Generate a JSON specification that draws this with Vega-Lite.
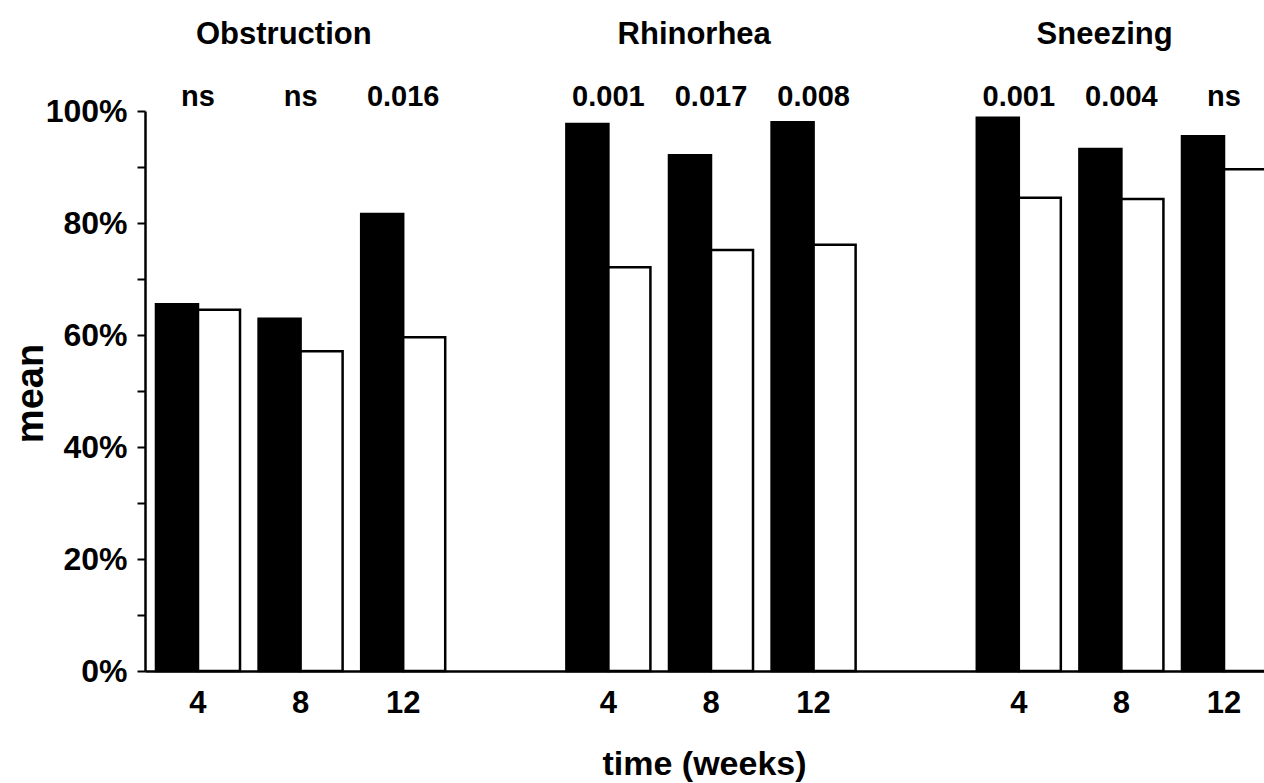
{
  "$schema": "https://vega.github.io/schema/vega-lite/v6.json",
  "autosize": {"type": "none"},
  "width": 1119,
  "height": 560,
  "padding": {"left": 145, "top": 111, "right": 0, "bottom": 112},
  "background": "white",
  "config": {
    "view": {"stroke": null},
    "font": "Liberation Sans",
    "axis": {"grid": false, "domainColor": "black", "tickColor": "black", "labelColor": "black", "titleColor": "black", "labelFont": "Liberation Sans", "titleFont": "Liberation Sans", "labelFontWeight": "bold", "titleFontWeight": "bold"}
  },
  "datasets": {
    "bars": [
      {"slot": "Obstruction 4", "treatment": "A", "value": 0.655},
      {"slot": "Obstruction 4", "treatment": "B", "value": 0.645},
      {"slot": "Obstruction 8", "treatment": "A", "value": 0.629},
      {"slot": "Obstruction 8", "treatment": "B", "value": 0.571},
      {"slot": "Obstruction 12", "treatment": "A", "value": 0.816},
      {"slot": "Obstruction 12", "treatment": "B", "value": 0.596},
      {"slot": "Rhinorhea 4", "treatment": "A", "value": 0.977},
      {"slot": "Rhinorhea 4", "treatment": "B", "value": 0.721},
      {"slot": "Rhinorhea 8", "treatment": "A", "value": 0.921},
      {"slot": "Rhinorhea 8", "treatment": "B", "value": 0.752},
      {"slot": "Rhinorhea 12", "treatment": "A", "value": 0.980},
      {"slot": "Rhinorhea 12", "treatment": "B", "value": 0.761},
      {"slot": "Sneezing 4", "treatment": "A", "value": 0.988},
      {"slot": "Sneezing 4", "treatment": "B", "value": 0.845},
      {"slot": "Sneezing 8", "treatment": "A", "value": 0.932},
      {"slot": "Sneezing 8", "treatment": "B", "value": 0.843},
      {"slot": "Sneezing 12", "treatment": "A", "value": 0.955},
      {"slot": "Sneezing 12", "treatment": "B", "value": 0.896}
    ],
    "pvals": [
      {"slot": "Obstruction 4", "p": "ns"},
      {"slot": "Obstruction 8", "p": "ns"},
      {"slot": "Obstruction 12", "p": "0.016"},
      {"slot": "Rhinorhea 4", "p": "0.001"},
      {"slot": "Rhinorhea 8", "p": "0.017"},
      {"slot": "Rhinorhea 12", "p": "0.008"},
      {"slot": "Sneezing 4", "p": "0.001"},
      {"slot": "Sneezing 8", "p": "0.004"},
      {"slot": "Sneezing 12", "p": "ns"}
    ],
    "titles": [
      {"slot": "Obstruction 8", "name": "Obstruction"},
      {"slot": "Rhinorhea 8", "name": "Rhinorhea"},
      {"slot": "Sneezing 8", "name": "Sneezing"}
    ]
  },
  "layer": [
    {
      "data": {"name": "bars"},
      "mark": {"type": "bar", "stroke": "black", "strokeWidth": 2.5},
      "encoding": {
        "x": {
          "field": "slot", "type": "nominal", "sort": null,
          "scale": {
            "domain": ["Obstruction 4", "Obstruction 8", "Obstruction 12", "gap1", "Rhinorhea 4", "Rhinorhea 8", "Rhinorhea 12", "gap2", "Sneezing 4", "Sneezing 8", "Sneezing 12"],
            "range": [0, 1132],
            "paddingInner": 0.181,
            "paddingOuter": 0.107
          },
          "axis": {
            "title": "time (weeks)",
            "titleFontSize": 34,
            "titleX": 559,
            "titleY": 93,
            "titleBaseline": "middle",
            "labelExpr": "indexof(datum.value, 'gap') >= 0 ? '' : split(datum.value, ' ')[1]",
            "labelAngle": 0,
            "labelFontSize": 31,
            "labelPadding": 17,
            "ticks": false,
            "tickSize": 0,
            "domainWidth": 2.5
          }
        },
        "xOffset": {"field": "treatment", "type": "nominal", "scale": {"paddingInner": 0, "paddingOuter": 0}},
        "y": {
          "field": "value", "type": "quantitative",
          "scale": {"domain": [0, 1], "nice": false},
          "axis": {
            "title": "mean",
            "titleFontSize": 38,
            "titleAngle": -90,
            "titleX": -114,
            "titleY": 282,
            "titleAlign": "center",
            "titleBaseline": "middle",
            "values": [0, 0.1, 0.2, 0.3, 0.4, 0.5, 0.6, 0.7, 0.8, 0.9, 1],
            "labelExpr": "round(datum.value * 10) % 2 == 0 ? format(datum.value, '.0%') : ''",
            "labelFontSize": 32,
            "labelPadding": 10,
            "tickSize": 8,
            "tickWidth": 2,
            "domainWidth": 2.5
          }
        },
        "fill": {"field": "treatment", "type": "nominal", "scale": {"domain": ["A", "B"], "range": ["black", "white"]}, "legend": null}
      }
    },
    {
      "data": {"name": "pvals"},
      "mark": {"type": "text", "font": "Liberation Sans", "fontWeight": "bold", "fontSize": 29, "baseline": "middle", "color": "black"},
      "encoding": {
        "x": {"field": "slot", "type": "nominal", "sort": null},
        "y": {"datum": 1.025},
        "text": {"field": "p"}
      }
    },
    {
      "data": {"name": "titles"},
      "mark": {"type": "text", "font": "Liberation Sans", "fontWeight": "bold", "fontSize": 31, "baseline": "middle", "color": "black"},
      "encoding": {
        "x": {"field": "slot", "type": "nominal", "sort": null, "bandPosition": 0.3},
        "y": {"datum": 1.136},
        "text": {"field": "name"}
      }
    }
  ]
}
